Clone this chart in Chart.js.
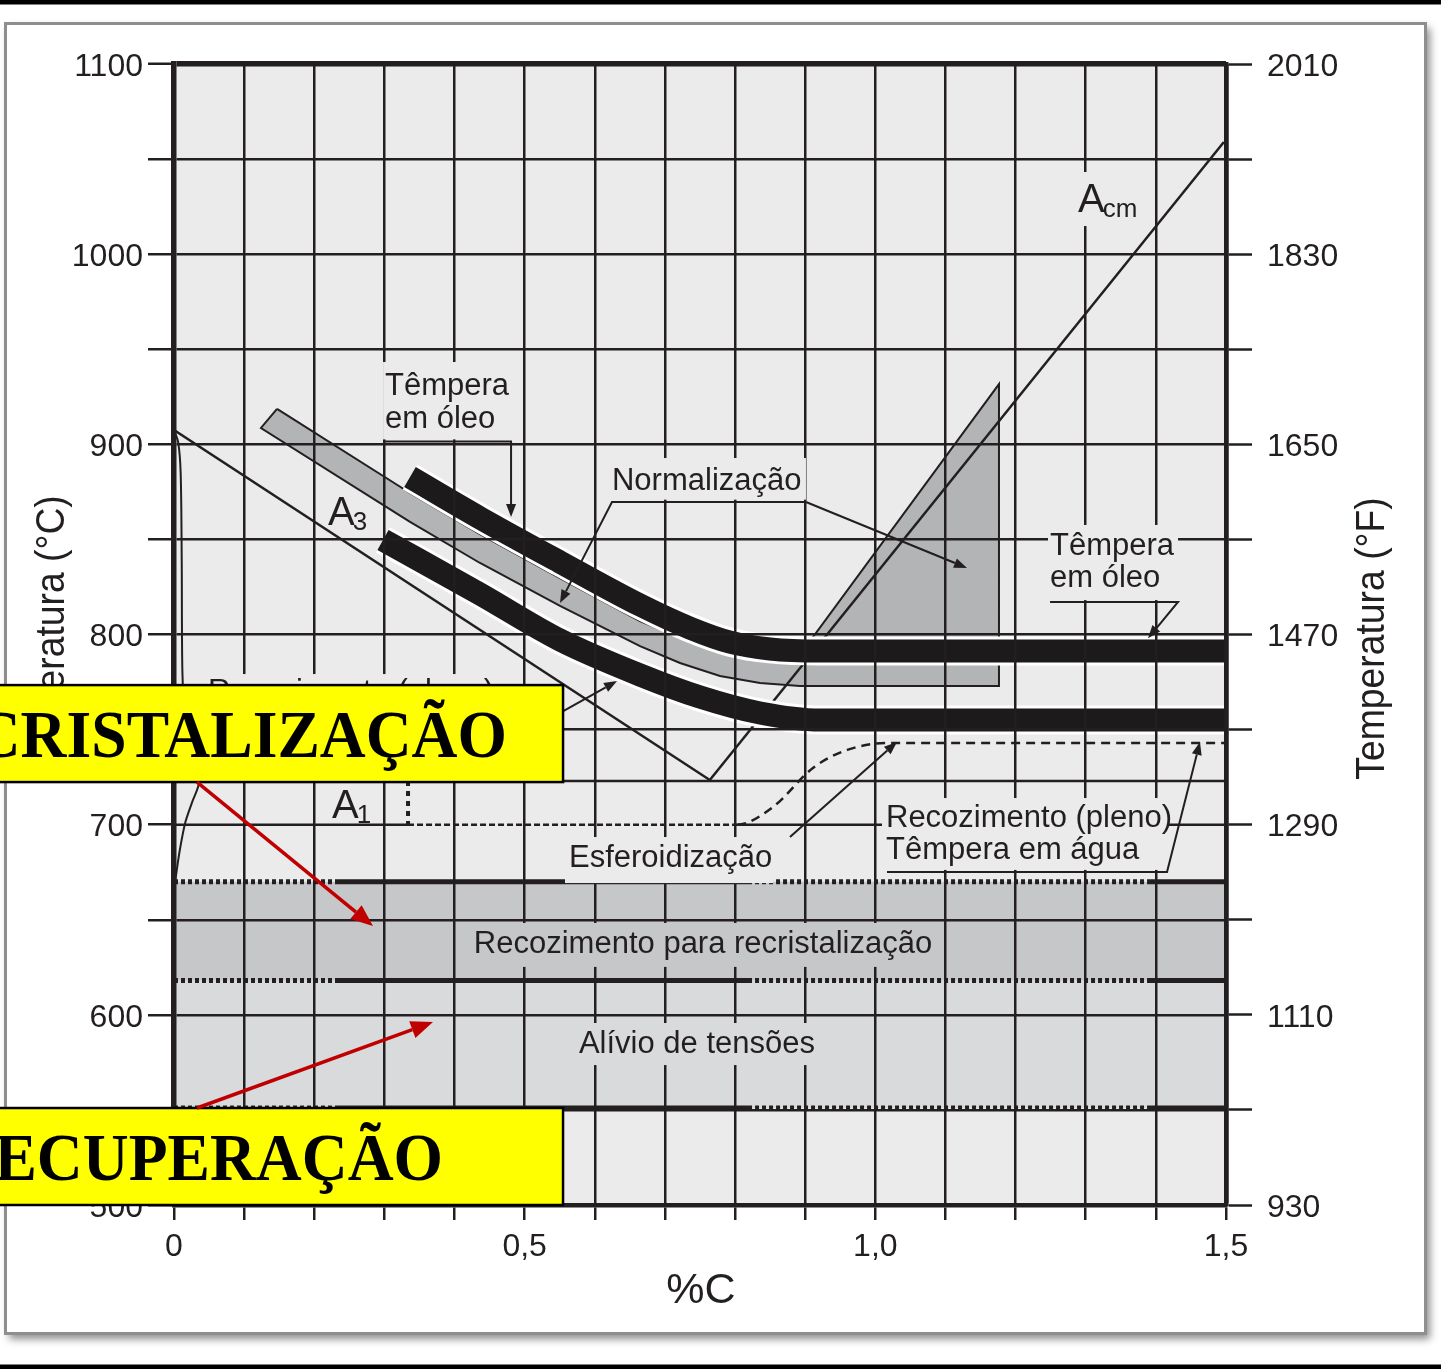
<!DOCTYPE html>
<html lang="pt">
<head>
<meta charset="utf-8">
<title>Faixas de temperatura para tratamentos térmicos</title>
<script src="https://cdn.jsdelivr.net/npm/chart.js@4/dist/chart.umd.min.js"></script>
<style>
  html, body { margin: 0; padding: 0; background: #ffffff; }
  canvas { display: block; }
</style>
</head>
<body>
<canvas id="chart" width="1441" height="1369" style="width:1441px;height:1369px"></canvas>
<script>
// ---------- axes ----------
const carbonMin = 0, carbonMax = 1.5, carbonStep = 0.1;
const celsiusMin = 500, celsiusMax = 1100, celsiusStep = 50;
const fahrenheitLabels = ['930', '1110', '1290', '1470', '1650', '1830', '2010'];

// ---------- phase boundaries (%C, °C) ----------
const a3Carbon = [0, 0.764];
const a3Temp = [907.5, 723.5];
const acmCarbon = [0.764, 1.497];
const acmTemp = [723.5, 1059];
const a1Carbon = [0.036, 1.5];
const a1Temp = [723, 723];
const ferriteCarbon = [0, 0.006, 0.0095, 0.011, 0.012, 0.016, 0.025, 0.036, 0.026, 0.016, 0.008, 0.002];
const ferriteTemp = [907.5, 901, 885, 840, 780, 755, 735, 723, 712, 701, 686, 671];

// ---------- treatment ranges ----------
const recrystCarbon = [0, 1.5, 1.5, 0];
const recrystTemp = [618, 618, 670, 670];
const reliefCarbon = [0, 1.5, 1.5, 0];
const reliefTemp = [551, 551, 618, 618];
const rangeEdgeCarbon = [0, 0.2324, 0.8185, 1.3874, 1.5];
const rangeEdgeTemps = [670, 618, 551];

// Normalização: strip above A3 joined to the hypereutectoid wedge
const normCarbon = [0.1469, 0.3365, 0.4363, 0.5504, 0.6645, 0.7357, 0.807, 0.8783, 0.9111, 1.1763,
                    1.1763, 0.8926, 0.8356, 0.7785, 0.7215, 0.6645, 0.5504, 0.4363, 0.3365, 0.124, 0.1469];
const normTemp = [918.6, 874.4, 852.8, 829.7, 807.1, 796.1, 789.2, 787.6, 798.7, 931.7,
                  772.9, 772.9, 774.5, 778.2, 785.0, 793.9, 815.0, 837.6, 859.2, 908.6, 918.6];

// Têmpera em óleo (upper thick band)
const oilCarbon = [0.3365, 0.4363, 0.5504, 0.6645, 0.7357, 0.7928, 0.8498, 0.9211, 1.5];
const oilTemp = [882.8, 861.3, 838.1, 815.5, 803.4, 796.0, 792.4, 791.3, 791.3];
// Recozimento pleno / têmpera em água (lower thick band)
const waterCarbon = [0.298, 0.4363, 0.5504, 0.6645, 0.75, 0.8356, 0.9211, 1.5];
const waterTemp = [849.7, 821.3, 797.1, 778.7, 767.1, 758.7, 755.0, 755.0];

// 700 °C reference line (interrupted where the spheroidizing limit runs along it)
const ref700Carbon = [0, 0.3337, 0.57, 0.803, 1.5];
const ref700Temp = [700, 700, null, 700, 700];
// Esferoidização limits
const spheroStepCarbon = [0.3337, 0.3337];
const spheroStepTemp = [723, 700];
const spheroCarbon = [0.3337, 0.803, 0.854, 0.911, 0.96, 1.021, 1.5];
const spheroTemp = [700, 700, 709.3, 729.8, 739.3, 743, 743];

// ---------- styling ----------
const INK = '#231f20';
const BAND = '#1c1a1b';
const PLOT_BG = '#ebebeb';
const RECRYST_BG = '#c6c7c9';
const RELIEF_BG = '#d9dadc';
const NORM_BG = '#b3b4b6';
const SANS = '"Liberation Sans", Arial, Helvetica, sans-serif';
const SERIF = '"Liberation Serif", "Times New Roman", serif';

Chart.defaults.font.family = SANS;
Chart.defaults.color = INK;

// ---------- annotations (positions in %C / °C) ----------
const notes = [
  {lines: ['Têmpera', 'em óleo'], x: 0.3009, t: [925.9, 908.4], bg: [0.2981, 0.4835, 943.3, 902.6], fill: PLOT_BG},
  {lines: ['Normalização'], x: 0.6245, t: [876.0], bg: [0.6117, 0.9011, 892.8, 870.9], fill: PLOT_BG},
  {lines: ['Têmpera', 'em óleo'], x: 1.249, t: [841.8, 825.1], bg: [1.2462, 1.4316, 857.6, 818.1], fill: PLOT_BG},
  {lines: ['Esferoidização'], x: 0.5632, t: [677.9], bg: [0.5575, 0.8541, 693.5, 669.3], fill: PLOT_BG},
  {lines: ['Recozimento (pleno)', 'Têmpera em água'], x: 1.0152, t: [698.8, 681.9], bg: [1.0095, 1.4173, 714.0, 676.2], fill: PLOT_BG},
  {lines: ['Recozimento (pleno)'], x: 0.0485, t: [765.0], bg: [0.0371, 0.4648, 779.2, 755.0], fill: PLOT_BG},
  {lines: ['Recozimento para recristalização'], x: 0.7543, center: true, t: [632.5], bg: [0.422, 1.085, 648.3, 625.2], fill: RECRYST_BG},
  {lines: ['Alívio de tensões'], x: 0.7457, center: true, t: [580.1], bg: [0.576, 0.9154, 595.7, 573.6], fill: RELIEF_BG}
];
const symbols = [
  {main: 'A', sub: '3', x: 0.2196, t: 857.6},
  {main: 'A', sub: '1', x: 0.2253, t: 703.5},
  {main: 'A', sub: 'cm', x: 1.289, t: 1022.3, bg: [1.2847, 1.3874, 1043.2, 1014.8]}
];
const leaders = [
  [[0.3009, 901.5], [0.4806, 901.5], [0.4806, 861.8]],
  [[0.9011, 869.7], [0.6245, 869.7], [0.5504, 816.6]],
  [[0.9011, 869.7], [1.1307, 835.0]],
  [[1.2491, 817.1], [1.4316, 817.1], [1.3888, 798.0]],
  [[1.0166, 675.1], [1.4159, 675.1], [1.4629, 743.5]],
  [[0.5219, 752.9], [0.6317, 775.5]],
  [[0.8783, 693.5], [1.0309, 743.5]]
];
const callouts = [
  {text: 'RECRISTALIZAÇÃO', x0: -0.4, x1: 0.5547, tTop: 773.4, tBottom: 722.4, textRight: 0.4748, baseline: 735.6,
   from: [0.0328, 722.4], to: [0.2837, 646.7]},
  {text: 'RECUPERAÇÃO', x0: -0.4, x1: 0.5547, tTop: 551, tBottom: 500, textRight: 0.3836, baseline: 513.1,
   from: [0.0328, 551], to: [0.3693, 596.2]}
];

// ---------- datasets ----------
function pts(xs, ys) { return xs.map((x, i) => ({x: x, y: ys[i]})); }
function layer(n) { return 100 - n; }   // higher layer => drawn later
const NONE = 'rgba(0,0,0,0)';

const datasets = [
  {data: pts(recrystCarbon, recrystTemp), fill: 'shape', backgroundColor: RECRYST_BG, borderColor: NONE, borderWidth: 0, order: layer(1)},
  {data: pts(reliefCarbon, reliefTemp), fill: 'shape', backgroundColor: RELIEF_BG, borderColor: NONE, borderWidth: 0, order: layer(1)},
  {data: pts(normCarbon, normTemp), fill: 'shape', backgroundColor: NORM_BG, borderColor: INK, borderWidth: 2, borderJoinStyle: 'miter', order: layer(2)}
];
rangeEdgeTemps.forEach(t => {
  datasets.push({
    data: pts(rangeEdgeCarbon, rangeEdgeCarbon.map(() => t)),
    borderColor: INK, borderWidth: 5, borderDash: [], order: layer(3),
    segment: {
      borderDash: c => (c.p0DataIndex % 2 === 0 ? [4, 3] : undefined),
      borderWidth: c => (c.p0DataIndex % 2 === 0 ? 5 : undefined)
    }
  });
});
datasets.push(
  {data: pts(ref700Carbon, ref700Temp), borderColor: INK, borderWidth: 2.5, order: layer(3)},
  {data: pts(spheroStepCarbon, spheroStepTemp), borderColor: INK, borderWidth: 4, borderDash: [5, 5], order: layer(3)},
  {data: pts(spheroCarbon, spheroTemp), borderColor: INK, borderWidth: 2.5, borderDash: [9, 6], cubicInterpolationMode: 'monotone', order: layer(3),
   segment: {borderDash: c => (c.p0DataIndex === 0 ? [6, 3] : undefined)}},
  {data: pts(a1Carbon, a1Temp), borderColor: INK, borderWidth: 2.5, order: layer(4)},
  {data: pts(ferriteCarbon, ferriteTemp), borderColor: INK, borderWidth: 2, tension: 0.3, order: layer(4)},
  {data: pts(a3Carbon, a3Temp), borderColor: INK, borderWidth: 2.5, order: layer(4)},
  {data: pts(acmCarbon, acmTemp), borderColor: INK, borderWidth: 2.5, order: layer(4)},
  {data: pts(oilCarbon, oilTemp), borderColor: '#ffffff', borderWidth: 29, borderCapStyle: 'butt', cubicInterpolationMode: 'monotone', order: layer(5)},
  {data: pts(waterCarbon, waterTemp), borderColor: '#ffffff', borderWidth: 29, borderCapStyle: 'butt', cubicInterpolationMode: 'monotone', order: layer(5)},
  {data: pts(oilCarbon, oilTemp), borderColor: BAND, borderWidth: 23, borderCapStyle: 'butt', cubicInterpolationMode: 'monotone', order: layer(6)},
  {data: pts(waterCarbon, waterTemp), borderColor: BAND, borderWidth: 23, borderCapStyle: 'butt', cubicInterpolationMode: 'monotone', order: layer(6)}
);

// ---------- drawing helpers ----------
function head(ctx, x1, y1, x2, y2, len, half) {
  const a = Math.atan2(y2 - y1, x2 - x1);
  const bx = x2 - len * Math.cos(a), by = y2 - len * Math.sin(a);
  ctx.beginPath();
  ctx.moveTo(x2, y2);
  ctx.lineTo(bx + half * Math.sin(a), by - half * Math.cos(a));
  ctx.lineTo(bx - half * Math.sin(a), by + half * Math.cos(a));
  ctx.closePath();
  ctx.fill();
  return [bx, by];
}

const decor = {
  id: 'decor',
  beforeDraw(chart) {
    const {ctx, chartArea: a, width: W, height: H} = chart;
    ctx.save();
    ctx.fillStyle = '#ffffff';
    ctx.fillRect(0, 0, W, H);
    ctx.fillStyle = '#000000';
    ctx.fillRect(0, 0, W, 4.5);
    ctx.fillRect(0, H - 4.5, W, 4.5);
    // framed panel with soft shadow
    ctx.shadowColor = 'rgba(0,0,0,0.45)';
    ctx.shadowBlur = 8;
    ctx.shadowOffsetX = 4;
    ctx.shadowOffsetY = 5;
    ctx.fillStyle = '#ffffff';
    ctx.fillRect(5, 23, 1421, 1311);
    ctx.shadowColor = 'rgba(0,0,0,0)';
    ctx.strokeStyle = '#8e8e8e';
    ctx.lineWidth = 3;
    ctx.strokeRect(5.5, 23.5, 1420, 1310);
    // plot background
    ctx.fillStyle = PLOT_BG;
    ctx.fillRect(a.left, a.top, a.right - a.left, a.bottom - a.top);
    ctx.restore();
  },
  afterDraw(chart) {
    const {ctx} = chart;
    const X = v => chart.scales.x.getPixelForValue(v);
    const Y = v => chart.scales.y.getPixelForValue(v);
    ctx.save();

    // label backgrounds hide the grid behind the text
    notes.concat(symbols.filter(s => s.bg)).forEach(n => {
      ctx.fillStyle = n.fill || PLOT_BG;
      const [x0, x1, t0, t1] = n.bg;
      ctx.fillRect(X(x0), Y(t0), X(x1) - X(x0), Y(t1) - Y(t0));
    });

    ctx.fillStyle = INK;
    ctx.textBaseline = 'alphabetic';
    ctx.font = `31px ${SANS}`;
    notes.forEach(n => {
      ctx.textAlign = n.center ? 'center' : 'left';
      n.lines.forEach((s, i) => ctx.fillText(s, X(n.x), Y(n.t[i])));
    });
    ctx.textAlign = 'left';
    symbols.forEach(s => {
      ctx.font = `40px ${SANS}`;
      const x = X(s.x), y = Y(s.t);
      ctx.fillText(s.main, x, y);
      const w = ctx.measureText(s.main).width;
      ctx.font = `26px ${SANS}`;
      ctx.fillText(s.sub, x + w - 2, y + 5);
    });

    // leader lines with arrow heads
    ctx.strokeStyle = INK;
    ctx.lineWidth = 2;
    leaders.forEach(p => {
      const q = p.map(([c, t]) => [X(c), Y(t)]);
      const n = q.length;
      const base = head(ctx, q[n - 2][0], q[n - 2][1], q[n - 1][0], q[n - 1][1], 13, 5);
      ctx.beginPath();
      ctx.moveTo(q[0][0], q[0][1]);
      for (let i = 1; i < n - 1; i++) ctx.lineTo(q[i][0], q[i][1]);
      ctx.lineTo(base[0], base[1]);
      ctx.stroke();
    });

    // axis titles
    const a = chart.chartArea;
    const midY = (a.top + a.bottom) / 2 + 4;
    ctx.font = `41px ${SANS}`;
    ctx.textAlign = 'center';
    [[63.5, 'Temperatura (°C)'], [1384, 'Temperatura (°F)']].forEach(([x, s]) => {
      ctx.save();
      ctx.translate(x, midY);
      ctx.rotate(-Math.PI / 2);
      ctx.scale(0.91, 1);
      ctx.fillText(s, 0, 0);
      ctx.restore();
    });
    ctx.font = `43px ${SANS}`;
    ctx.fillText('%C', (a.left + a.right) / 2 + 1, 1303);

    // highlighted callouts
    callouts.forEach(c => {
      const x0 = X(c.x0), x1 = X(c.x1), y0 = Y(c.tTop), y1 = Y(c.tBottom);
      ctx.fillStyle = '#ffff00';
      ctx.fillRect(x0, y0, x1 - x0, y1 - y0);
      ctx.strokeStyle = '#000000';
      ctx.lineWidth = 2.5;
      ctx.strokeRect(x0, y0, x1 - x0, y1 - y0);
      ctx.save();
      ctx.fillStyle = '#000000';
      ctx.font = `bold 68px ${SERIF}`;
      ctx.textAlign = 'right';
      ctx.translate(X(c.textRight), Y(c.baseline));
      ctx.scale(0.935, 1);
      ctx.fillText(c.text, 0, 0);
      ctx.restore();
    });
    ctx.strokeStyle = '#c00000';
    ctx.fillStyle = '#c00000';
    ctx.lineWidth = 3.5;
    callouts.forEach(c => {
      const fx = X(c.from[0]), fy = Y(c.from[1]), tx = X(c.to[0]), ty = Y(c.to[1]);
      const base = head(ctx, fx, fy, tx, ty, 22, 9);
      ctx.beginPath();
      ctx.moveTo(fx, fy);
      ctx.lineTo(base[0], base[1]);
      ctx.stroke();
    });
    ctx.restore();
  }
};

const isHalf = v => Math.abs(v * 2 - Math.round(v * 2)) < 1e-6;

new Chart(document.getElementById('chart'), {
  type: 'line',
  data: {datasets: datasets},
  options: {
    responsive: false,
    animation: false,
    devicePixelRatio: 1,
    layout: {padding: {top: 64, left: 0, right: 0, bottom: 0}},
    elements: {point: {radius: 0, hoverRadius: 0}, line: {tension: 0, fill: false}},
    plugins: {legend: {display: false}, tooltip: {enabled: false}, title: {display: false}},
    events: [],
    scales: {
      x: {
        type: 'linear', position: 'bottom', min: carbonMin, max: carbonMax,
        ticks: {
          stepSize: carbonStep, autoSkip: false, maxRotation: 0, padding: 8,
          font: {size: 32}, color: INK,
          callback: v => (isHalf(v) ? (v === 0 ? '0' : v.toFixed(1).replace('.', ',')) : '')
        },
        grid: {
          z: 1, color: INK, tickColor: INK, tickLength: 15, tickWidth: 2.5,
          lineWidth: c => (c.tick && Math.abs(c.tick.value - carbonMax) < 1e-6 ? 4.5 : 2.5)
        },
        border: {display: true, color: INK, width: 4.5, z: 2},
        afterFit: s => { s.height = 164; }
      },
      y: {
        type: 'linear', position: 'left', min: celsiusMin, max: celsiusMax,
        ticks: {
          stepSize: celsiusStep, autoSkip: false, padding: 5, labelOffset: 3, font: {size: 32}, color: INK,
          callback: v => (v % 100 === 0 ? String(v) : '')
        },
        grid: {
          z: 1, tickColor: INK, tickLength: 26, tickWidth: 2.5,
          color: c => (c.tick && c.tick.value === 700 ? NONE : INK),
          lineWidth: c => (c.tick && c.tick.value === celsiusMax ? 5.5 : 2.5)
        },
        border: {display: true, color: INK, width: 5.5, z: 2},
        afterFit: s => { s.width = 174; }
      },
      y2: {
        type: 'linear', position: 'right', min: celsiusMin, max: celsiusMax,
        ticks: {
          stepSize: celsiusStep, autoSkip: false, padding: 15, labelOffset: 3, font: {size: 32}, color: INK,
          callback: v => (v % 100 === 0 ? fahrenheitLabels[(v - celsiusMin) / 100] : '')
        },
        grid: {z: 1, drawOnChartArea: false, tickColor: INK, tickLength: 26, tickWidth: 2.5},
        border: {display: true, color: INK, width: 4.5, z: 2},
        afterFit: s => { s.width = 215; }
      }
    }
  },
  plugins: [decor]
});
</script>
</body>
</html>
